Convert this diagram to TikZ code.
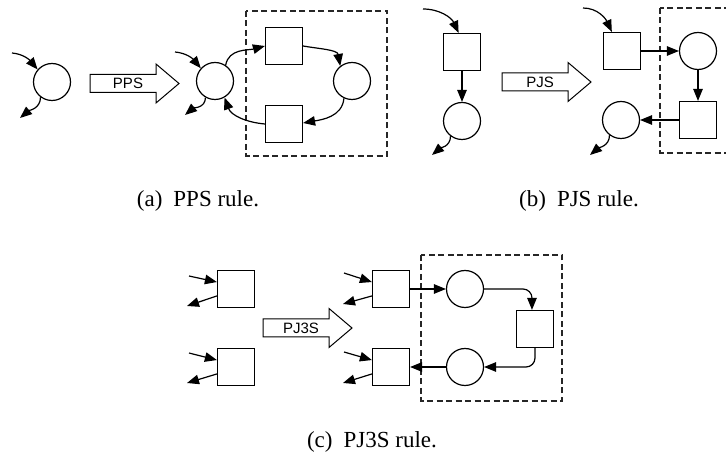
\documentclass[tikz,border=0pt]{standalone}
\usepackage{fontspec}
\setmainfont{Liberation Serif}
\newfontfamily\labelfont{Liberation Sans}
\usetikzlibrary{arrows.meta}

\begin{document}
\begin{tikzpicture}[x=1pt, y=1pt,
    place/.style={circle, draw, line width=1.2pt, minimum size=37pt, inner sep=0pt},
    trans/.style={rectangle, draw, line width=1.2pt, minimum size=37pt, inner sep=0pt},
    arc/.style={line width=1.2pt, -{Triangle[length=12pt, width=9.5pt]}},
    region/.style={line width=1.1pt, draw=black!85, dash pattern=on 6pt off 3.5pt},
    rulebox/.style={line width=1pt, line join=miter},
    rulelabel/.style={font=\labelfont\fontsize{15}{18}\selectfont, inner sep=0pt},
    caption/.style={font=\fontsize{23}{27}\selectfont, anchor=base, inner sep=0pt}]
  % A hollow rule arrow: #1 = x-coordinate of its tail, #2 = y-coordinate of its axis,
  % #3 = the name of the rule, #4 = the name of the label node.
  \newcommand{\rulearrow}[4]{%
    \draw[rulebox] (#1,#2-9) -- (#1+66,#2-9) -- (#1+66,#2-19.5) -- (#1+89,#2)
                   -- (#1+66,#2+19.5) -- (#1+66,#2+9) -- (#1,#2+9) -- cycle;
    \node[rulelabel] (#4) at (#1+38,#2) {#3};}

  \useasboundingbox (0,0) rectangle (726,458);

  % (a) PPS rule
  \node[place] (a1) at (52,376) {};
  \node[place] (a2) at (215,377) {};
  \node[trans] (a3) at (284,412) {};
  \node[place] (a4) at (352,377) {};
  \node[trans] (a5) at (284,334) {};
  \draw[region] (246,447) rectangle (387,302);
  \coordinate (a1i) at (12,405);
  \coordinate (a1o) at (20,340);
  \coordinate (a2i) at (175,406);
  \coordinate (a2o) at (185,343);
  \draw[arc] (a1i) to[out=-5, in=130] (a1.139);
  \draw[arc] (a1.233) to[out=-90, in=40] (a1o);
  \draw[arc] (a2i) to[out=-5, in=130] (a2.138);
  \draw[arc] (a2.240) to[out=-90, in=40] (a2o);
  \draw[arc] (a2.56) to[out=80, in=195] (a3.west);
  \draw[arc] (a3.east) to[out=-10, in=100] (a4.128);
  \draw[arc] (a4.245) to[out=-95, in=10] (a5.3);
  \draw[arc] (a5.west) to[out=175, in=-70] (a2.300);
  \rulearrow{90}{374.5}{PPS}{ppsrule}
  \node[caption] (capa) at (198,251) {(a)\hspace{0.48em}PPS rule.};

  % (b) PJS rule
  \node[trans] (b1) at (462,406) {};
  \node[place] (b2) at (462,337) {};
  \node[trans] (b3) at (622,407) {};
  \node[place] (b4) at (698,407) {};
  \node[trans] (b5) at (698,338) {};
  \node[place] (b6) at (621,338) {};
  \draw[region] (660,450) rectangle (740,305);
  \coordinate (b1i) at (423,449);
  \coordinate (b2o) at (432,303);
  \coordinate (b3i) at (583,450);
  \coordinate (b6o) at (590,303);
  \draw[arc] (b1i) to[out=0, in=115] (b1.100);
  \draw[arc] (b1.south) -- (b2.north);
  \draw[arc] (b2.233) to[out=-90, in=40] (b2o);
  \draw[arc] (b3i) to[out=0, in=115] (b3.118);
  \draw[arc] (b3.east) -- (b4.west);
  \draw[arc] (b4.south) -- (b5.north);
  \draw[arc] (b5.west) -- (b6.east);
  \draw[arc] (b6.233) to[out=-90, in=40] (b6o);
  \rulearrow{502}{376}{PJS}{pjsrule}
  \node[caption] (capb) at (579,251) {(b)\hspace{0.48em}PJS rule.};

  % (c) PJ3S rule
  \node[trans] (c1) at (236,169) {};
  \node[trans] (c2) at (236,91) {};
  \node[trans] (c3) at (391,169) {};
  \node[trans] (c4) at (391,91) {};
  \node[place] (c5) at (465,169) {};
  \node[trans] (c6) at (535,129) {};
  \node[place] (c7) at (465,91) {};
  \draw[region] (421,203) rectangle (562,57);
  \coordinate (c1i) at (189,182);
  \coordinate (c1o) at (187,152);
  \coordinate (c2i) at (189,105);
  \coordinate (c2o) at (187,75);
  \coordinate (c3i) at (344,185);
  \coordinate (c3o) at (343,154);
  \coordinate (c4i) at (344,106);
  \coordinate (c4o) at (343,75);
  \draw[arc] (c1i) -- (c1.160);
  \draw[arc] (c1.200) -- (c1o);
  \draw[arc] (c2i) -- (c2.160);
  \draw[arc] (c2.200) -- (c2o);
  \draw[arc] (c3i) -- (c3.160);
  \draw[arc] (c3.200) -- (c3o);
  \draw[arc] (c4i) -- (c4.160);
  \draw[arc] (c4.200) -- (c4o);
  \draw[arc] (c3.east) -- (c5.west);
  \draw[arc, rounded corners=9pt] (c5.east) -| (c6.99);
  \draw[arc, rounded corners=9pt] (c6.south) |- (c7.east);
  \draw[arc] (c7.west) -- (c4.east);
  \rulearrow{263}{130}{PJ3S}{pj3srule}
  \node[caption] (capc) at (372,10) {(c)\hspace{0.48em}PJ3S rule.};
\end{tikzpicture}
\end{document}
